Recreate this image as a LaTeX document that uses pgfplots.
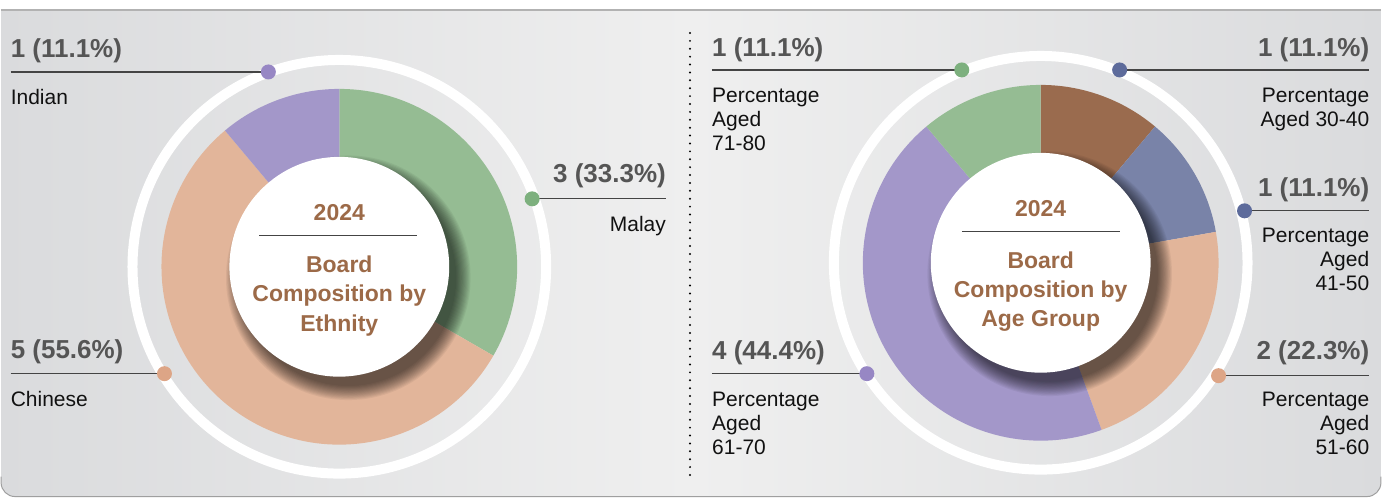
\documentclass[border=0pt]{standalone}
\usepackage{fontspec}
\setmainfont{Liberation Sans}
\usepackage{pgfplots}
\usepackage{pgfplotstable}
\pgfplotsset{compat=1.18}

\definecolor{cGreen}{HTML}{95BC93}
\definecolor{cPeach}{HTML}{E2B59A}
\definecolor{cPurple}{HTML}{A397C9}
\definecolor{cBrown}{HTML}{9A6B4E}
\definecolor{cBlue}{HTML}{7983A8}
\definecolor{dGreen}{HTML}{7DB07E}
\definecolor{dPurple}{HTML}{9787C4}
\definecolor{dPeach}{HTML}{DDA586}
\definecolor{dBlue}{HTML}{5D6B9B}
\definecolor{numgray}{HTML}{555555}
\definecolor{catblack}{HTML}{111111}
\definecolor{cenbrown}{HTML}{9C6A48}
\definecolor{lineg}{HTML}{444444}
\definecolor{bgA}{HTML}{DADBDD}
\definecolor{bgB}{HTML}{EFEFEF}

\newcommand\numfont{\fontsize{26}{28}\selectfont\bfseries}
\newcommand\catfont{\fontsize{21}{24}\selectfont}
\newcommand\cenfont{\fontsize{23}{29}\selectfont\bfseries}

% Ethnicity (clockwise from 12 o'clock)
\pgfplotstableread{
value color
3 cGreen
5 cPeach
1 cPurple
}\ethnicdata

% Age group (clockwise from 12 o'clock)
\pgfplotstableread{
value color
1 cBrown
1 cBlue
2 cPeach
4 cPurple
1 cGreen
}\agedata

% #1 cx, #2 cy, #3 table, #4 total
\newcommand\drawpie[4]{%
  \pgfplotstablegetrowsof{#3}%
  \pgfmathtruncatemacro\nrows{\pgfplotsretval-1}%
  \def\curang{90}%
  \pgfplotsforeachungrouped \i in {0,...,\nrows}{%
    \pgfplotstablegetelem{\i}{value}\of{#3}\let\val\pgfplotsretval
    \pgfplotstablegetelem{\i}{color}\of{#3}\let\col\pgfplotsretval
    \pgfmathsetmacro\newang{\curang-\val/#4*360}%
    \edef\tmp{\noexpand\fill[\col] (#1,#2) -- ++(\curang:178pt) arc[start angle=\curang, end angle=\newang, radius=178pt] -- cycle;}%
    \tmp
    \let\curang\newang
  }%
}

% inner circle with soft drop shadow; #1 cx, #2 cy
\newcommand\innercircle[2]{%
  \pgfmathsetmacro\scx{#1+9}%
  \pgfmathsetmacro\scy{#2-11}%
  \pgfplotsforeachungrouped \k in {1,...,14}{%
    \pgfmathsetmacro\rr{107+1.1*\k}%
    \edef\tmp{\noexpand\fill[black, opacity=0.05] (\scx,\scy) circle[radius=\rr pt];}%
    \tmp
  }%
  \fill[white] (#1,#2) circle[radius=110pt];
  \draw[white, line width=10pt] (#1,#2) circle[radius=207pt];
}

\begin{document}
\begin{tikzpicture}
\begin{axis}[
  at={(0,0)}, anchor=south west,
  scale only axis, width=1382pt, height=499pt,
  xmin=0, xmax=1382, ymin=0, ymax=499,
  enlargelimits=false, hide axis, clip=false,
  nodes={inner sep=0pt},
]
% background
\fill[white] (0,0) rectangle (1382,499);
\shade[left color=bgA, right color=bgA, middle color=bgB]
  (0.5,489) -- (0.5,16) arc[start angle=180, end angle=270, radius=14pt]
  -- (1367.5,2) arc[start angle=270, end angle=360, radius=14pt] -- (1381.5,489) -- cycle;
\draw[gray!75, line width=1pt]
  (0.5,22) -- (0.5,16) arc[start angle=180, end angle=270, radius=14pt]
  -- (1367.5,2) arc[start angle=270, end angle=360, radius=14pt] -- (1381.5,22);
\draw[gray!60, line width=1.2pt] (0,489) -- (1382,489);

% divider
\draw[black, line width=2.2pt, dash pattern=on 0pt off 7.9pt, line cap=round] (690,466) -- (690,23);

% left donut
\drawpie{339}{232}{\ethnicdata}{9}
\innercircle{339}{232}
\node[anchor=base, font=\cenfont, text=cenbrown] at (339,278) {2024};
\draw[lineg, line width=1.2pt] (259,263) -- (417,263);
\node[anchor=base, font=\cenfont, text=cenbrown] at (339,226) {Board};
\node[anchor=base, font=\cenfont, text=cenbrown] at (339,197) {Composition by};
\node[anchor=base, font=\cenfont, text=cenbrown] at (339,167) {Ethnity};

% right donut
\drawpie{1041}{236}{\agedata}{9}
\innercircle{1041}{236}
\node[anchor=base, font=\cenfont, text=cenbrown] at (1041,282) {2024};
\draw[lineg, line width=1.2pt] (962,267) -- (1120,267);
\node[anchor=base, font=\cenfont, text=cenbrown] at (1041,230) {Board};
\node[anchor=base, font=\cenfont, text=cenbrown] at (1041,201) {Composition by};
\node[anchor=base, font=\cenfont, text=cenbrown] at (1041,172) {Age Group};

% ---- left labels
\draw[lineg, line width=1.3pt] (10,427) -- (268,427);
\fill[dPurple] (268,427) circle[radius=7.5pt];
\node[anchor=base west, font=\numfont, text=numgray] at (10,441) {1 (11.1\%)};
\node[anchor=base west, font=\catfont, text=catblack] at (10,394) {Indian};

\draw[lineg, line width=1.3pt] (532,300) -- (666,300);
\fill[dGreen] (532,300) circle[radius=7.5pt];
\node[anchor=base east, font=\numfont, text=numgray] at (666,316) {3 (33.3\%)};
\node[anchor=base east, font=\catfont, text=catblack] at (666,267) {Malay};

\draw[lineg, line width=1.3pt] (10,125) -- (164,125);
\fill[dPeach] (164,125) circle[radius=7.5pt];
\node[anchor=base west, font=\numfont, text=numgray] at (10,140) {5 (55.6\%)};
\node[anchor=base west, font=\catfont, text=catblack] at (10,92) {Chinese};

% ---- right labels
\draw[lineg, line width=1.3pt] (712,429) -- (962,429);
\fill[dGreen] (962,429) circle[radius=7.5pt];
\node[anchor=base west, font=\numfont, text=numgray] at (712,442) {1 (11.1\%)};
\node[anchor=base west, font=\catfont, text=catblack] at (712,396) {Percentage};
\node[anchor=base west, font=\catfont, text=catblack] at (712,372) {Aged};
\node[anchor=base west, font=\catfont, text=catblack] at (712,348) {71-80};

\draw[lineg, line width=1.3pt] (1120,429) -- (1370,429);
\fill[dBlue] (1120,429) circle[radius=7.5pt];
\node[anchor=base east, font=\numfont, text=numgray] at (1370,442) {1 (11.1\%)};
\node[anchor=base east, font=\catfont, text=catblack] at (1370,396) {Percentage};
\node[anchor=base east, font=\catfont, text=catblack] at (1370,372) {Aged 30-40};

\draw[lineg, line width=1.3pt] (1245,288) -- (1370,288);
\fill[dBlue] (1245,288) circle[radius=7.5pt];
\node[anchor=base east, font=\numfont, text=numgray] at (1370,302) {1 (11.1\%)};
\node[anchor=base east, font=\catfont, text=catblack] at (1370,256) {Percentage};
\node[anchor=base east, font=\catfont, text=catblack] at (1370,232) {Aged};
\node[anchor=base east, font=\catfont, text=catblack] at (1370,208) {41-50};

\draw[lineg, line width=1.3pt] (1219,123) -- (1370,123);
\fill[dPeach] (1219,123) circle[radius=7.5pt];
\node[anchor=base east, font=\numfont, text=numgray] at (1370,139) {2 (22.3\%)};
\node[anchor=base east, font=\catfont, text=catblack] at (1370,92) {Percentage};
\node[anchor=base east, font=\catfont, text=catblack] at (1370,68) {Aged};
\node[anchor=base east, font=\catfont, text=catblack] at (1370,44) {51-60};

\draw[lineg, line width=1.3pt] (712,125) -- (867,125);
\fill[dPurple] (867,125) circle[radius=7.5pt];
\node[anchor=base west, font=\numfont, text=numgray] at (712,139) {4 (44.4\%)};
\node[anchor=base west, font=\catfont, text=catblack] at (712,92) {Percentage};
\node[anchor=base west, font=\catfont, text=catblack] at (712,68) {Aged};
\node[anchor=base west, font=\catfont, text=catblack] at (712,44) {61-70};
\end{axis}
\end{tikzpicture}
\end{document}
